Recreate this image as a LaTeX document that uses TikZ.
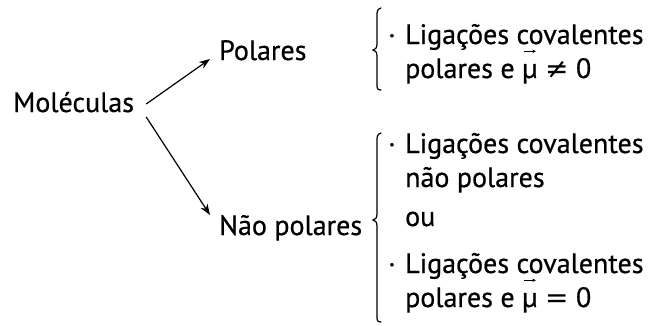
\documentclass[tikz,border=0pt]{standalone}
\usepackage{fontspec}
\setmainfont{PT Sans}[FakeBold=0.6]
\newfontfamily\symfont{DejaVu Sans}
\usetikzlibrary{arrows.meta}
\newcommand{\vecmu}{\leavevmode\vbox{\offinterlineskip\halign{\hfil##\hfil\cr
 \tikz\draw[-{Stealth[length=3.5pt,width=3.5pt]},line width=0.8pt](0pt,0pt)--(12pt,0pt);\cr\noalign{\kern11pt}μ\cr}}}
\tikzset{
  txt/.style={inner sep=0pt, anchor=base west, font=\fontsize{28}{32}\selectfont},
  arr/.style={-{Stealth[length=11pt,width=8pt]}, line width=1.2pt},
  brace/.style={line width=1.2pt, line cap=round}
}
\begin{document}
\begin{tikzpicture}[x=1pt,y=-1pt]
\useasboundingbox (0,0) rectangle (657,325);
\node[txt] (mol) at (13,112) {Moléculas};
\node[txt] (pol) at (219,60) {Polares};
\node[txt] (npol) at (219,235) {Não polares};
\draw[arr] ([shift={(12,-8)}]mol.base east) -- ([shift={(-9,-1)}]pol.base west);
\draw[arr] ([shift={(12,5)}]mol.base east) -- ([shift={(-9,-20)}]npol.base west);
% top brace
\draw[brace] (381,8) .. controls (377,9) and (377,12) .. (377,16) -- (377,44) .. controls (377,48) and (375,50) .. (373,50) .. controls (375,50) and (377,52) .. (377,56) -- (377,84) .. controls (377,88) and (377,90) .. (381,90);
\node[txt] (d1) at (388,44) {·};
\node[txt] (t1) at (405,44) {Ligações covalentes};
\node[txt] (t2) at (405,78) {polares e \vecmu{} {\symfont ≠} 0};
% bottom brace
\draw[brace] (381,133) .. controls (377,134) and (377,137) .. (377,141) -- (377,214) .. controls (377,218) and (375,220) .. (373,220) .. controls (375,220) and (377,222) .. (377,226) -- (377,316) .. controls (377,320) and (377,322) .. (381,322);
\node[txt] (d2) at (388,153) {·};
\node[txt] (b1) at (405,153) {Ligações covalentes};
\node[txt] (b2) at (405,187) {não polares};
\node[txt] (b3) at (405,226) {ou};
\node[txt] (d4) at (388,273) {·};
\node[txt] (b4) at (405,273) {Ligações covalentes};
\node[txt] (b5) at (405,307) {polares e \vecmu{} {\symfont =} 0};
\end{tikzpicture}
\end{document}
